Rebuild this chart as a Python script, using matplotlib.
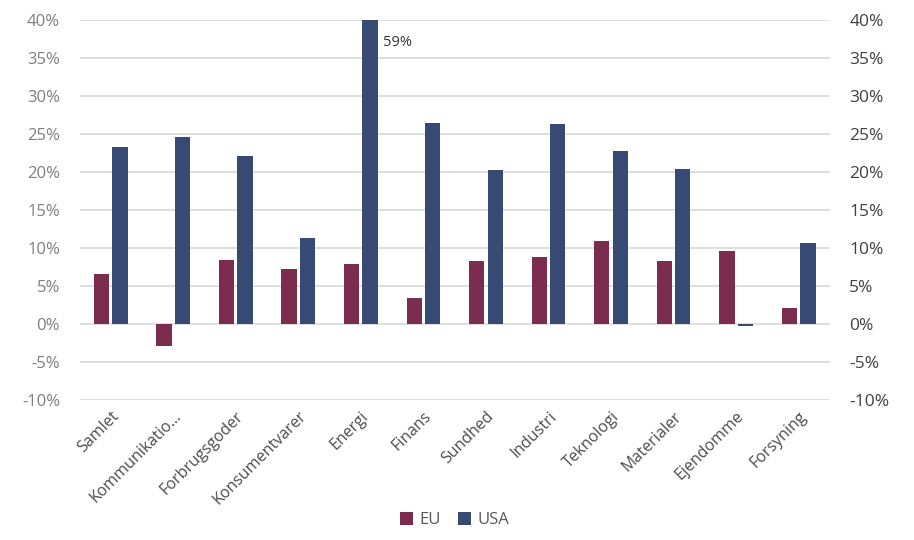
import numpy as np
import matplotlib
matplotlib.use("Agg")
import matplotlib.pyplot as plt
from matplotlib.ticker import FuncFormatter

plt.rcParams['font.family'] = ['Open Sans', 'DejaVu Sans']

# data (percent)
sectors = ["Samlet", "Kommunikatio…", "Forbrugsgoder", "Konsumentvarer", "Energi",
           "Finans", "Sundhed", "Industri", "Teknologi", "Materialer",
           "Ejendomme", "Forsyning"]
eu = [6.6, -2.9, 8.4, 7.2, 7.9, 3.4, 8.3, 8.8, 10.9, 8.3, 9.6, 2.1]
usa = [23.3, 24.6, 22.1, 11.3, 59.0, 26.4, 20.3, 26.3, 22.8, 20.4, -0.3, 10.7]
ticks = list(range(-10, 45, 5))

eu_color = "#7b2c4f"
usa_color = "#374a74"

fig = plt.figure(figsize=(9.14, 5.4), dpi=100)
ax = fig.add_axes([0.087, 0.259, 0.821, 0.704])

x = np.arange(len(sectors))
w = 0.245
ax.bar(x - w / 2 - 0.025, eu, width=w, color=eu_color, label="EU", zorder=3)
ax.bar(x + w / 2 + 0.025, usa, width=w, color=usa_color, label="USA", zorder=3)

ax.set_ylim(-10, 40)
ax.set_xlim(-0.5, len(sectors) - 0.5)
ax.set_yticks(ticks)
ax.yaxis.set_major_formatter(FuncFormatter(lambda v, p: "%d%%" % v))
ax.grid(axis="y", color="#d9d9d9", linewidth=1.2, zorder=0)
for s in ax.spines.values():
    s.set_visible(False)
ax.tick_params(axis="y", length=0, labelsize=12, labelcolor="#7f7f7f", pad=14)
ax.set_xticks(x)
ax.set_xticklabels(sectors, rotation=45, ha="right", rotation_mode="anchor",
                   fontsize=11.5, color="#4d4d4d")
ax.tick_params(axis="x", length=0, pad=6)

ax2 = ax.twinx()
ax2.set_ylim(-10, 40)
ax2.set_yticks(ticks)
ax2.yaxis.set_major_formatter(FuncFormatter(lambda v, p: "%d%%" % v))
for s in ax2.spines.values():
    s.set_visible(False)
ax2.tick_params(axis="y", length=0, labelsize=12.5, labelcolor="#404040", pad=14)

# clipped Energi USA bar label
ax.text(4 + 0.36, 37.0, "%d%%" % usa[4], fontsize=10.5, color="#333333",
        va="center", ha="left")

ax.legend(loc="upper center", bbox_to_anchor=(0.5, -0.255), ncol=2, frameon=False,
          fontsize=12, labelcolor="#595959", handlelength=0.8, handleheight=0.8,
          columnspacing=1.0, handletextpad=0.4)

fig.savefig("out.png", dpi=100)
